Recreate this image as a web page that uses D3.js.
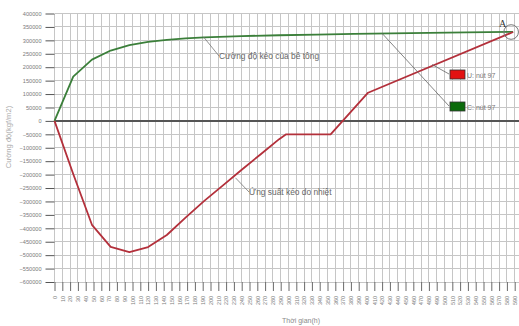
<!DOCTYPE html>
<html>
<head>
<meta charset="utf-8">
<script src="https://cdn.jsdelivr.net/npm/d3@7"></script>
<style>
  html, body { margin: 0; padding: 0; background: #fff; }
  svg { display: block; font-family: "Liberation Sans", Arial, sans-serif; }
</style>
</head>
<body>
<svg id="chart" width="519" height="326"></svg>
<script>
// Time in hours
const hoursU = [0, 24, 48, 72, 96, 120, 144, 168, 192, 216, 240, 264, 288, 297, 354, 402, 588];
// U: node 97 – thermal tensile stress (kgf/m2)
const stressU = [0, -198000, -387000, -469000, -489000, -470000, -425000, -360000, -298000, -240000, -182000, -125000, -68000, -50000, -50000, 105000, 331000];

const hoursC = [0, 24, 48, 72, 96, 120, 144, 168, 192, 240, 288, 336, 384, 432, 480, 528, 588];
// C: node 97 – concrete tensile strength (kgf/m2)
const strengthC = [0, 165000, 228000, 262000, 282000, 294000, 302000, 307000, 311000, 316000, 319000, 321500, 324000, 326000, 328000, 330000, 331500];

const xTicks = d3.range(0, 600, 10);
const yTicks = d3.range(-600000, 400001, 50000);

const seriesNames = ["U: nút 97", "C: nút 97"];
const seriesColors = ["#b3303b", "#3b7f3a"];
const legendFills = ["#e21212", "#0b6b0b"];

const svg = d3.select("#chart");
svg.append("rect").attr("width", 519).attr("height", 326).attr("fill", "#fff");

const x = d3.scaleLinear().domain([0, 600]).range([54.5, 522.5]);
const y = d3.scaleLinear().domain([-600000, 400000]).range([282, 13.5]);

const plotTop = y(400000), plotBottom = y(-600000);

// grid
const grid = svg.append("g");
grid.selectAll("line.v").data(xTicks.concat([600])).join("line")
  .attr("x1", d => x(d)).attr("x2", d => x(d))
  .attr("y1", plotTop).attr("y2", plotBottom)
  .attr("stroke", "#c6c6c6").attr("stroke-width", 1)
  .attr("shape-rendering", "crispEdges");
grid.selectAll("line.h").data(yTicks).join("line")
  .attr("x1", x(0)).attr("x2", 519)
  .attr("y1", d => y(d)).attr("y2", d => y(d))
  .attr("stroke", "#c6c6c6").attr("stroke-width", 1)
  .attr("shape-rendering", "crispEdges");

// zero line
svg.append("line")
  .attr("x1", x(0)).attr("x2", 519)
  .attr("y1", y(0)).attr("y2", y(0))
  .attr("stroke", "#555").attr("stroke-width", 2);

// y axis
const yAxis = d3.axisLeft(y).tickValues(yTicks).tickSize(9).tickPadding(4)
  .tickFormat(d3.format("d"));
const gy = svg.append("g").attr("transform", `translate(${x(0)},0)`).call(yAxis);
gy.select(".domain").remove();
gy.selectAll(".tick line").attr("stroke", "#555");
gy.selectAll(".tick text").attr("fill", "#7a7a7a").attr("font-size", 5.6)
  .attr("font-family", "Liberation Sans, Arial, sans-serif");

// x axis
const xAxis = d3.axisBottom(x).tickValues(xTicks).tickSize(9).tickPadding(0)
  .tickFormat(d3.format("d"));
const gx = svg.append("g").attr("transform", `translate(0,${plotBottom})`).call(xAxis);
gx.select(".domain").remove();
gx.selectAll(".tick line").attr("stroke", "#6a6a6a");
gx.selectAll(".tick text")
  .attr("fill", "#7a7a7a").attr("font-size", 5.4)
  .attr("font-family", "Liberation Sans, Arial, sans-serif")
  .attr("transform", "translate(0,14) rotate(-90)")
  .attr("text-anchor", "end").attr("dy", "0.35em").attr("y", 0).attr("x", 0);

// axis titles
svg.append("text").attr("x", 301).attr("y", 323).attr("text-anchor", "middle")
  .attr("font-size", 7).attr("fill", "#8a8a8a").text("Thời gian(h)");
svg.append("text").attr("transform", "translate(11,137) rotate(-90)")
  .attr("text-anchor", "middle").attr("font-size", 7.6).attr("fill", "#aaa")
  .text("Cường độ(kgf/m2)");

// series
const line = d3.line().x(d => x(d[0])).y(d => y(d[1]));
const dataU = hoursU.map((h, i) => [h, stressU[i]]);
const dataC = hoursC.map((h, i) => [h, strengthC[i]]);
svg.append("path").datum(dataC).attr("d", line).attr("fill", "none")
  .attr("stroke", seriesColors[1]).attr("stroke-width", 1.8).attr("stroke-linejoin", "round");
svg.append("path").datum(dataU).attr("d", line).attr("fill", "none")
  .attr("stroke", seriesColors[0]).attr("stroke-width", 1.8).attr("stroke-linejoin", "round");

// annotation: concrete strength
const callouts = [
  { t: 191, v: 313000, lx: 219, ly: 56, text: "Cường độ kéo của bê tông" },
  { t: 232, v: -212000, lx: 249, ly: 192, text: "Ứng suất kéo do nhiệt" }
];
callouts.forEach(c => {
  svg.append("line").attr("x1", x(c.t)).attr("y1", y(c.v)).attr("x2", c.lx).attr("y2", c.ly)
    .attr("stroke", "#777").attr("stroke-width", 0.8);
  svg.append("text").attr("x", c.lx).attr("y", c.ly + 3).attr("font-size", 8.4)
    .attr("fill", "#666").text(c.text);
});

// legend with leader lines
const legend = [
  { t: 484, v: 210000, bx: 450, by: 70, idx: 0 },
  { t: 420, v: 326000, bx: 450, by: 102, idx: 1 }
];
legend.forEach(l => {
  svg.append("line").attr("x1", x(l.t)).attr("y1", y(l.v)).attr("x2", l.bx - 1).attr("y2", l.by + 4)
    .attr("stroke", "#666").attr("stroke-width", 0.8);
  svg.append("rect").attr("x", l.bx).attr("y", l.by).attr("width", 15).attr("height", 9)
    .attr("fill", legendFills[l.idx]).attr("stroke", "#333").attr("stroke-width", 0.8);
  svg.append("text").attr("x", l.bx + 17).attr("y", l.by + 7.5).attr("font-size", 7)
    .attr("fill", "#777").text(seriesNames[l.idx]);
});

// intersection marker A
svg.append("circle").attr("cx", x(588) - 2).attr("cy", y(331000)).attr("r", 7.3)
  .attr("fill", "none").attr("stroke", "#777").attr("stroke-width", 1);
svg.append("text").attr("x", 499).attr("y", 27).attr("font-size", 10)
  .attr("font-family", "Liberation Serif, Times New Roman, serif")
  .attr("fill", "#333").text("A");
</script>
</body>
</html>
